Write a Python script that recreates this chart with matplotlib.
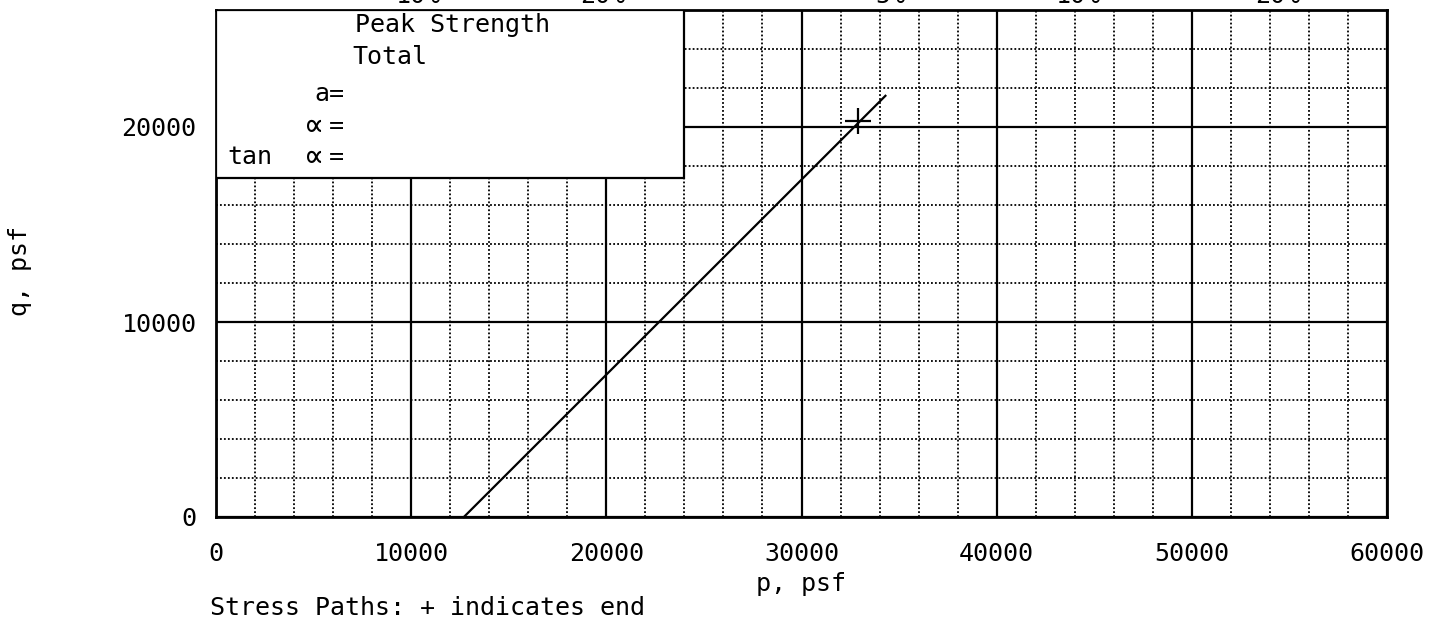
import numpy as np
import matplotlib
matplotlib.use('Agg')
import matplotlib.pyplot as plt
import matplotlib.ticker as mticker
from matplotlib.patches import Rectangle

# Stress path (total), p and q in psf
path_p = [12700, 34300]
path_q = [0, 21600]
end_p = [32900]
end_q = [20300]

x_ticks = [0, 10000, 20000, 30000, 40000, 50000, 60000]
y_ticks = [0, 10000, 20000]

# clipped labels along the top edge of the sheet
top_labels = ['10%', '20%', '5%', '10%', '20%']
top_label_x = [418, 603, 890, 1078, 1278]   # pixel columns

plt.rcParams['font.family'] = ['DejaVu Sans Mono', 'DejaVu Sans']
fs = 18

fig = plt.figure(figsize=(14.29, 6.30), dpi=100)
ax = fig.add_axes([216/1429, 1-517/630, (1387-216)/1429, (517-10)/630])

ax.set_xlim(0, 60000)
ax.set_ylim(0, 26000)

ax.xaxis.set_major_locator(mticker.FixedLocator(x_ticks))
ax.yaxis.set_major_locator(mticker.FixedLocator(y_ticks))
ax.xaxis.set_minor_locator(mticker.MultipleLocator(2000))
ax.yaxis.set_minor_locator(mticker.MultipleLocator(2000))
ax.tick_params(which='both', length=0, labelsize=fs, pad=18)
ax.tick_params(axis='y', pad=14)

# grid: solid every 10000, dotted every 2000
ax.grid(which='major', color='black', lw=1.6, ls='-')
ax.grid(which='minor', color='black', lw=1.3, ls=(0, (1, 1.2)))
ax.set_axisbelow(True)
for s in ax.spines.values():
    s.set_linewidth(2)

# info box covering the grid in the top-left
ax.add_patch(Rectangle((0, 17400), 24000, 8600, facecolor='white',
                       edgecolor='black', lw=1.6, zorder=3))
ax.text(12100, 25240, 'Peak Strength', ha='center', va='center', fontsize=fs, zorder=4)
ax.text(6970, 23600, 'Total', ha='left', va='center', fontsize=fs, zorder=4)
ax.text(6560, 21700, 'a=', ha='right', va='center', fontsize=fs, zorder=4)
ax.text(6560, 20050, '=', ha='right', va='center', fontsize=fs, zorder=4)
ax.text(5000, 20050, '\u221d', ha='center', va='center', fontsize=24, zorder=4)
ax.text(6560, 18460, '=', ha='right', va='center', fontsize=fs, zorder=4)
ax.text(5000, 18460, '\u221d', ha='center', va='center', fontsize=24, zorder=4)
ax.text(600, 18460, 'tan', ha='left', va='center', fontsize=fs, zorder=4)

# stress path and end marker
ax.plot(path_p, path_q, color='black', lw=1.6, zorder=5, clip_on=False)
ax.plot(end_p, end_q, marker='+', ms=19, mew=1.6, color='black', ls='none', zorder=6)

ax.set_xlabel('p, psf', fontsize=fs, labelpad=4)
fig.text(20/1429, 1-271/630, 'q, psf', rotation=90, ha='center', va='center', fontsize=fs)
fig.text(210/1429, 1-608/630, 'Stress Paths: + indicates end', ha='left', va='center', fontsize=fs)

for lab, px in zip(top_labels, top_label_x):
    fig.text(px/1429, 1-3/630, lab, ha='center', va='baseline', fontsize=fs)

fig.savefig('out.png', dpi=100)
